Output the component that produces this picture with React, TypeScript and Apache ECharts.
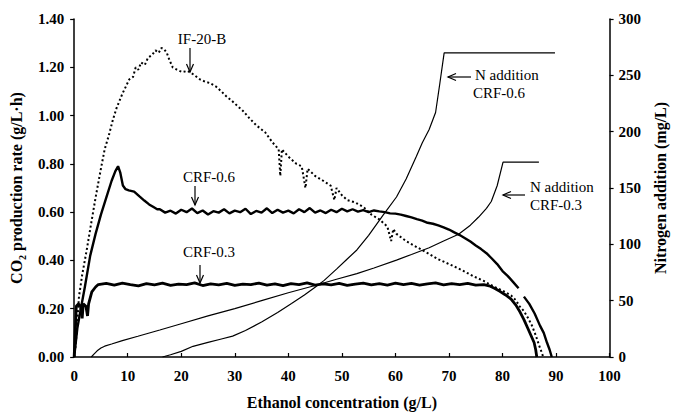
import React, { useEffect, useRef } from "react";
import * as echarts from "echarts";

const FONT = "'Liberation Serif', 'Times New Roman', serif";

// IF-20-B CO2 production rate (g/L·h) vs ethanol (g/L)
const if20b: [number, number][] = [
  [0, 0], [0.3, 0.05], [0.6, 0.15], [0.9, 0.25], [1.5, 0.34], [2.4, 0.45], [3, 0.53], [4, 0.66],
  [5, 0.78], [5.7, 0.86], [6.5, 0.92], [7.2, 0.98], [7.9, 1.03], [9, 1.09], [10.3, 1.15], [11, 1.16],
  [11.5, 1.2], [12, 1.19], [12.5, 1.22], [13.2, 1.21], [13.8, 1.24], [14.5, 1.25], [15.2, 1.27],
  [15.8, 1.26], [16.3, 1.28], [16.8, 1.275], [17.3, 1.26], [17.8, 1.23], [18.4, 1.2], [19.2, 1.19],
  [20.2, 1.18], [21.2, 1.185], [22.3, 1.17], [23.5, 1.15], [24.5, 1.14], [25.3, 1.135], [26.5, 1.12],
  [27.5, 1.1], [28.4, 1.08], [29.5, 1.06], [30.5, 1.04], [31.5, 1.02], [32.7, 0.99], [34, 0.96],
  [35.7, 0.93], [37, 0.89], [38.2, 0.86], [38.5, 0.75], [38.8, 0.86], [40, 0.83], [41.5, 0.8],
  [42.5, 0.79], [43.2, 0.7], [43.6, 0.78], [45, 0.75], [46.5, 0.73], [47.9, 0.71], [48.6, 0.65],
  [49, 0.7], [50, 0.67], [51, 0.65], [52.5, 0.64], [54.1, 0.62], [55.5, 0.59], [57, 0.57],
  [58.5, 0.54], [59.2, 0.48], [59.6, 0.53], [60.2, 0.51], [62, 0.48], [64, 0.455], [66.3, 0.427],
  [68, 0.405], [70, 0.385], [72.4, 0.36], [74.5, 0.335], [76.5, 0.315], [78.5, 0.29], [80, 0.275],
  [81.6, 0.255], [82.5, 0.235], [83.2, 0.21], [84, 0.19], [84.8, 0.16], [85.5, 0.13], [86.2, 0.09],
  [86.8, 0.05], [87.3, 0.02], [87.6, 0],
];

// CRF-0.6 CO2 production rate
const crf06: (number | string)[][] = [
  [0, 0], [0.3, 0.06], [0.6, 0.12], [1, 0.17], [1.5, 0.23], [2, 0.29], [3, 0.42], [4, 0.51],
  [5, 0.59], [6, 0.66], [7, 0.73], [7.7, 0.77], [8.2, 0.79], [8.6, 0.765], [9.1, 0.71], [9.6, 0.695],
  [10.2, 0.69], [11.2, 0.685], [12.2, 0.665], [13.1, 0.648], [14, 0.632], [14.9, 0.62], [15.5, 0.612],
  [16, 0.612], [17, 0.598], [18, 0.606], [19, 0.594], [20, 0.61], [21, 0.6], [22, 0.615], [23, 0.596],
  [24, 0.607], [25, 0.59], [26, 0.604], [27, 0.598], [28, 0.612], [29, 0.595], [30, 0.606], [31, 0.6],
  [32, 0.614], [33, 0.592], [34, 0.605], [35, 0.598], [36, 0.616], [37, 0.596], [38, 0.61], [39, 0.598],
  [40, 0.606], [41, 0.595], [42, 0.612], [43, 0.6], [44, 0.617], [45, 0.598], [46, 0.607], [47, 0.596],
  [48, 0.61], [49, 0.6], [50, 0.614], [51, 0.603], [52, 0.612], [53, 0.602], [54, 0.608], [55, 0.6],
  [56, 0.607], [57, 0.603], [58, 0.6], [59, 0.595], [60, 0.594], [61, 0.59], [62, 0.584], [63, 0.578],
  [64, 0.571], [65, 0.565], [66, 0.556], [67, 0.552], [68, 0.545], [69, 0.537], [70, 0.528],
  [71, 0.516], [72, 0.505], [73, 0.492], [74, 0.478], [75, 0.462], [76, 0.447], [77, 0.43],
  [78, 0.408], [79, 0.385], [80, 0.356], [81, 0.335], [82, 0.31], [83, 0.285], [83.4, "-"],
  [84, 0.25], [85, 0.22], [86, 0.18], [87, 0.13], [87.7, 0.1], [88.3, 0.06], [88.8, 0.03], [89.2, 0],
];

// CRF-0.3 CO2 production rate
const crf03: [number, number][] = [
  [0, 0], [0.2, 0.1], [0.4, 0.21], [0.8, 0.22], [1.2, 0.21], [1.5, 0.16], [1.7, 0.22], [2.2, 0.21],
  [2.5, 0.17], [2.7, 0.22], [3.3, 0.27], [4, 0.29], [4.5, 0.3], [6, 0.305], [7.5, 0.298], [9, 0.306],
  [10.5, 0.3], [12, 0.295], [13.5, 0.304], [15, 0.299], [16.5, 0.306], [18, 0.297], [19.5, 0.302],
  [21, 0.3], [22.5, 0.307], [24, 0.296], [25.5, 0.303], [27, 0.299], [28.5, 0.305], [30, 0.297],
  [31.5, 0.302], [33, 0.3], [34.5, 0.306], [36, 0.298], [37.5, 0.303], [39, 0.296], [40.5, 0.304],
  [42, 0.3], [43.5, 0.307], [45, 0.298], [46.5, 0.303], [48, 0.299], [49.5, 0.305], [51, 0.297],
  [52.5, 0.302], [54, 0.306], [55.5, 0.299], [57, 0.304], [58.5, 0.298], [60, 0.306], [61.5, 0.3],
  [63, 0.305], [64.5, 0.298], [66, 0.303], [67.5, 0.307], [69, 0.299], [70.5, 0.304], [72, 0.3],
  [73.5, 0.305], [75, 0.298], [76.5, 0.3], [77.5, 0.295], [78.5, 0.285], [79.5, 0.272], [80.5, 0.258],
  [81.6, 0.24], [82.5, 0.215], [83.3, 0.185], [84, 0.155], [84.7, 0.12], [85.3, 0.09], [85.9, 0.06],
  [86.2, 0.03], [86.4, 0],
];

// Nitrogen addition (mg/L), CRF-0.6
const nCrf06: [number, number][] = [
  [16.5, 0], [18, 2], [20, 5], [22.2, 9.5], [25, 13], [27.5, 16], [29.6, 18.5], [32, 23.5], [35, 31],
  [38, 39.5], [40.6, 47.5], [43, 55], [45, 62], [46.7, 68], [49, 78], [51, 87], [52.8, 95], [55, 108],
  [57.7, 126], [60.2, 142], [62, 158], [63.9, 178], [65, 190], [66.3, 202], [67.5, 217], [68.3, 243],
  [69.1, 270], [89.8, 270],
];

// Nitrogen addition (mg/L), CRF-0.3
const nCrf03: [number, number][] = [
  [3.2, 0], [3.7, 2.5], [4.3, 5.5], [5, 8], [5.7, 9.6], [7, 11.5], [9, 14.5], [11.9, 18.4], [16, 24],
  [20, 29.5], [25, 36.5], [30, 43], [35, 50], [40, 57], [45, 63.5], [49, 69], [52.8, 74], [56, 79],
  [60.2, 86], [63, 91], [66.3, 97], [69, 103], [71.8, 109], [74, 117], [75.5, 124], [77, 132],
  [77.9, 138], [79, 152], [80.1, 173], [86.8, 173],
];

const xAxisRange = { min: 0, max: 100, interval: 10 };
const co2AxisRange = { min: 0, max: 1.4, interval: 0.2 };
const nAxisRange = { min: 0, max: 300, interval: 50 };

const tickLabel = {
  fontFamily: FONT,
  fontSize: 15,
  fontWeight: "bold" as const,
  color: "#000",
};

const titleStyle = { fontFamily: FONT, fontSize: 16, fontWeight: "bold" as const, color: "#000" };

const axisLine = { show: true, lineStyle: { color: "#000", width: 1.5 } };

function arrowDown(x: number, y1: number, y2: number) {
  return [
    { type: "line", shape: { x1: x, y1, x2: x, y2 }, style: { stroke: "#000", lineWidth: 1.2 } },
    {
      type: "polyline",
      shape: { points: [[x - 3.5, y2 - 8], [x, y2], [x + 3.5, y2 - 8]] },
      style: { stroke: "#000", fill: null, lineWidth: 1.2 },
    },
  ];
}

function arrowLeft(x1: number, x2: number, y: number) {
  return [
    { type: "line", shape: { x1, y1: y, x2, y2: y }, style: { stroke: "#000", lineWidth: 1.2 } },
    {
      type: "polyline",
      shape: { points: [[x2 + 8, y - 3.5], [x2, y], [x2 + 8, y + 3.5]] },
      style: { stroke: "#000", fill: null, lineWidth: 1.2 },
    },
  ];
}

function label(text: string, x: number, y: number, align: string) {
  return {
    type: "text",
    x,
    y,
    style: {
      text,
      fontFamily: FONT,
      fontSize: 15,
      fill: "#000",
      align,
      verticalAlign: "middle",
      textAlign: align,
      textVerticalAlign: "middle",
    },
  };
}

export default function App() {
  const ref = useRef<HTMLDivElement>(null);

  useEffect(() => {
    if (!ref.current) return;
    const chart = echarts.init(ref.current, undefined, { renderer: "svg" });
    chart.setOption({
      animation: false,
      backgroundColor: "#fff",
      grid: { left: 72, right: 58, top: 19, bottom: 54 },
      xAxis: {
        type: "value",
        ...xAxisRange,
        name: "Ethanol concentration (g/L)",
        nameLocation: "middle",
        nameGap: 37,
        nameTextStyle: titleStyle,
        axisLine,
        axisTick: { show: true, inside: true, length: 4, lineStyle: { color: "#000", width: 1.2 } },
        axisLabel: { ...tickLabel, margin: 11 },
        splitLine: { show: false },
      },
      yAxis: [
        {
          type: "value",
          position: "left",
          ...co2AxisRange,
          name: "{a|CO}{s|2}{a| production rate (g/L·h)}",
          nameLocation: "middle",
          nameRotate: 90,
          nameGap: 46,
          nameTextStyle: {
            rich: {
              a: { ...titleStyle, lineHeight: 18, verticalAlign: "bottom" },
              s: { ...titleStyle, fontSize: 10, lineHeight: 18, verticalAlign: "bottom", padding: [0, 0, -3, 0] },
            },
          },
          axisLine,
          axisTick: { show: true, inside: false, length: 4, lineStyle: { color: "#000", width: 1.2 } },
          axisLabel: { ...tickLabel, margin: 10, formatter: (v: number) => v.toFixed(2) },
          splitLine: { show: false },
        },
        {
          type: "value",
          position: "right",
          ...nAxisRange,
          name: "Nitrogen addition (mg/L)",
          nameLocation: "middle",
          nameRotate: 90,
          nameGap: 42,
          nameTextStyle: titleStyle,
          axisLine,
          axisTick: { show: true, inside: false, length: 4, lineStyle: { color: "#000", width: 1.2 } },
          axisLabel: { ...tickLabel, margin: 9 },
          splitLine: { show: false },
        },
      ],
      series: [
        {
          name: "N addition CRF-0.3",
          type: "line",
          yAxisIndex: 1,
          data: nCrf03,
          showSymbol: false,
          lineStyle: { color: "#000", width: 1.2 },
        },
        {
          name: "N addition CRF-0.6",
          type: "line",
          yAxisIndex: 1,
          data: nCrf06,
          showSymbol: false,
          lineStyle: { color: "#000", width: 1.2 },
        },
        {
          name: "IF-20-B",
          type: "line",
          yAxisIndex: 0,
          data: if20b,
          showSymbol: false,
          lineStyle: { color: "#000", width: 2, type: [2, 2.5] },
        },
        {
          name: "CRF-0.6",
          type: "line",
          yAxisIndex: 0,
          data: crf06,
          showSymbol: false,
          connectNulls: false,
          lineStyle: { color: "#000", width: 2.4 },
        },
        {
          name: "CRF-0.3",
          type: "line",
          yAxisIndex: 0,
          data: crf03,
          showSymbol: false,
          lineStyle: { color: "#000", width: 2.8 },
        },
      ],
      graphic: [
        label("IF-20-B", 202, 39, "center"),
        ...arrowDown(190, 48, 72),
        label("CRF-0.6", 209, 177, "center"),
        ...arrowDown(195, 186, 205),
        label("CRF-0.3", 209, 252, "center"),
        ...arrowDown(200, 265, 283),
        label("N addition", 475, 75, "left"),
        label("CRF-0.6", 473, 93, "left"),
        ...arrowLeft(471, 448, 77),
        label("N addition", 530, 187, "left"),
        label("CRF-0.3", 530, 205, "left"),
        ...arrowLeft(525, 503, 195),
      ],
    });
    return () => chart.dispose();
  }, []);

  return (
    <div
      ref={ref}
      style={{ position: "absolute", left: 0, top: 0, width: 676, height: 415 }}
    />
  );
}
